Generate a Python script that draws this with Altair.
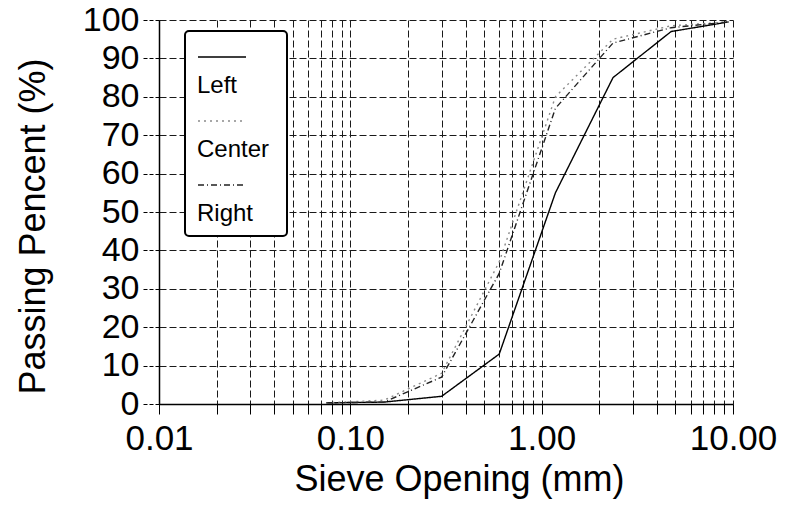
import json
import altair as alt
import pandas as pd

# ---- data ----
sieve_mm = [0.075, 0.15, 0.3, 0.6, 1.18, 2.36, 4.75, 9.5]
left_pct = [0.3, 0.5, 2.0, 13.0, 55.0, 85.0, 97.0, 99.5]
center_pct = [0.3, 1.0, 8.0, 37.0, 80.0, 95.0, 98.5, 99.5]
right_pct = [0.3, 0.5, 7.0, 34.0, 77.0, 94.0, 98.0, 99.5]
series_names = ["Left", "Center", "Right"]

x_tick_values = [0.01, 0.02, 0.03, 0.04, 0.05, 0.06, 0.07, 0.08, 0.09,
                 0.1, 0.2, 0.3, 0.4, 0.5, 0.6, 0.7, 0.8, 0.9,
                 1, 2, 3, 4, 5, 6, 7, 8, 9, 10]
x_label_values = [0.01, 0.1, 1, 10]
y_tick_values = [0, 10, 20, 30, 40, 50, 60, 70, 80, 90, 100]

rows = []
for name, vals in zip(series_names, [left_pct, center_pct, right_pct]):
    for s, v in zip(sieve_mm, vals):
        rows.append({"sieve": s, "passing": v, "series": name, "series_lbl": name})
df = pd.DataFrame(rows)

FONT = "Liberation Sans"

label_expr = ("indexof(" + json.dumps(x_label_values) +
              ", datum.value) >= 0 ? format(datum.value, '.2f') : ''")

# legend with the frame and the line samples
legend_sym = alt.Legend(
    title=" ", titleOrient="bottom", titleFontSize=35, titlePadding=10,
    orient="none", legendX=26, legendY=11, direction="vertical",
    symbolType="stroke", symbolSize=2304, symbolStrokeWidth=1.5,
    symbolOffset=11, labelExpr="' '", labelFontSize=10, labelOffset=39,
    rowPadding=34, padding=1, strokeColor="black", fillColor="white",
    cornerRadius=4, zindex=1,
)
# legend with the names, under each sample
legend_lbl = alt.Legend(
    title=None, orient="none", legendX=14, legendY=54, direction="vertical",
    symbolType="circle", symbolSize=1, symbolOpacity=0,
    labelFontSize=24, labelFont=FONT, labelColor="black", labelOffset=0,
    rowPadding=40, padding=0, zindex=2,
)

chart = alt.Chart(df).mark_line(clip=True, strokeWidth=1.4).encode(
    x=alt.X("sieve:Q",
            scale=alt.Scale(type="log", domain=[0.01, 10]),
            axis=alt.Axis(values=x_tick_values, labelExpr=label_expr,
                          labelOverlap=False, labelFlush=False,
                          labelFontSize=35, labelPadding=7, tickSize=10,
                          title="Sieve Opening (mm)", titlePadding=6,
                          titleX=300)),
    y=alt.Y("passing:Q",
            scale=alt.Scale(domain=[0, 100]),
            axis=alt.Axis(values=y_tick_values, labelFontSize=34, tickSize=16,
                          tickDash=[4, 2], labelPadding=4,
                          title="Passing Pencent (%)", titlePadding=30,
                          titleY=206)),
    color=alt.Color("series:N",
                    scale=alt.Scale(domain=series_names,
                                    range=["#000000", "#8a8a8a", "#222222"]),
                    legend=legend_sym),
    strokeDash=alt.StrokeDash("series:N",
                              scale=alt.Scale(domain=series_names,
                                              range=[[1, 0], [2, 4], [6, 3, 1, 3]]),
                              legend=legend_sym),
    strokeWidth=alt.StrokeWidth("series_lbl:O", sort=series_names,
                                scale=alt.Scale(range=[1.4, 1.4, 1.4]),
                                legend=legend_lbl),
).properties(
    width=574, height=384,
    autosize=alt.AutoSizeParams(type="none"),
    padding={"left": 159, "top": 20, "right": 53, "bottom": 106},
).configure_view(
    stroke=None
).configure_axis(
    labelFont=FONT, titleFont=FONT, labelColor="black", titleColor="black",
    titleFontSize=36, titleFontWeight="normal",
    domainColor="black", domainWidth=1.5, tickColor="black", tickWidth=1,
    grid=True, gridColor="#1a1a1a", gridDash=[7, 3], gridWidth=1, gridOpacity=1,
).configure_legend(
    strokeWidth=2
)

chart.save("out.html", embed_options={"renderer": "svg", "actions": False})
